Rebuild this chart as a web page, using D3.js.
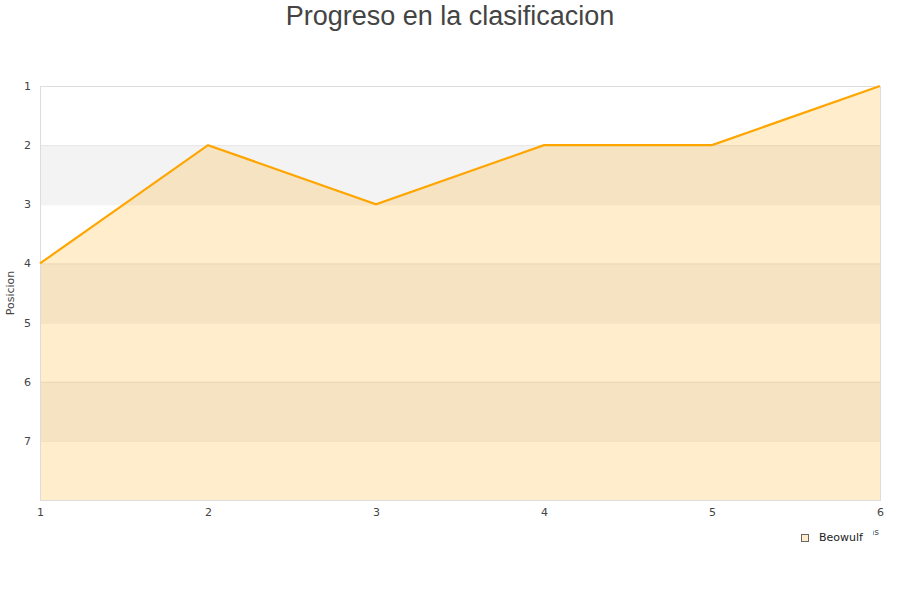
<!DOCTYPE html>
<html><head><meta charset="utf-8">
<script src="https://cdn.jsdelivr.net/npm/d3@7"></script>
<style>body{margin:0;background:#fff;} svg{display:block;}</style>
</head><body>
<svg id="c" width="900" height="600"></svg>
<script>
const title = "Progreso en la clasificacion";
const yTitle = "Posicion";
const xTitle = "Jornadas";
const seriesName = "Beowulf";
const rounds = [1, 2, 3, 4, 5, 6];
const positions = [4, 2, 3, 2, 2, 1];
const yTicks = [1, 2, 3, 4, 5, 6, 7];

const svg = d3.select("#c");
const m = {l: 40, r: 20, t: 86, b: 100};
const W = 900, H = 600;
const x = d3.scaleLinear().domain([1, 6]).range([m.l, W - m.r]);
const y = d3.scaleLinear().domain([1, 8]).range([m.t, H - m.b]);

// bands
const bands = d3.range(1, 8);
svg.append("g").selectAll("rect").data(bands).join("rect")
  .attr("x", x(1)).attr("width", x(6) - x(1))
  .attr("y", d => y(d)).attr("height", d => y(d + 1) - y(d))
  .attr("fill", d => d % 2 === 0 ? "#f3f3f3" : "#ffffff");

// area
const area = d3.area().x((d, i) => x(rounds[i])).y0(y(8)).y1(d => y(d));
svg.append("path").datum(positions).attr("d", area)
  .attr("fill", "#ffa500").attr("fill-opacity", 0.2);

// gridlines
svg.append("g").selectAll("line").data(yTicks.slice(1)).join("line")
  .attr("x1", x(1)).attr("x2", x(6))
  .attr("y1", d => y(d) + 0.5).attr("y2", d => y(d) + 0.5)
  .attr("stroke", "#000").attr("stroke-opacity", 0.06);

// border
svg.append("rect").attr("x", x(1) + 0.5).attr("y", y(1) + 0.5)
  .attr("width", x(6) - x(1)).attr("height", y(8) - y(1))
  .attr("fill", "none").attr("stroke", "#ddd");

// line
const line = d3.line().x((d, i) => x(rounds[i])).y(d => y(d));
svg.append("path").datum(positions).attr("d", line)
  .attr("fill", "none").attr("stroke", "#ffa500").attr("stroke-width", 2.2);

// y axis labels
const yAxis = d3.axisLeft(y).tickValues(yTicks).tickFormat(d3.format("d")).tickSize(0).tickPadding(9);
const gy = svg.append("g").attr("transform", `translate(${x(1)},0)`).call(yAxis);
gy.select(".domain").remove();
gy.selectAll("text").attr("font-family", "DejaVu Sans").attr("font-size", 11).attr("fill", "#444");

// x axis labels
const xAxis = d3.axisBottom(x).tickValues(rounds).tickFormat(d3.format("d")).tickSize(0).tickPadding(8);
const gx = svg.append("g").attr("transform", `translate(0,${y(8)})`).call(xAxis);
gx.select(".domain").remove();
gx.selectAll("text").attr("font-family", "DejaVu Sans").attr("font-size", 11).attr("fill", "#444");

// titles
svg.append("text").attr("x", 450).attr("y", 25).attr("text-anchor", "middle")
  .attr("font-family", "Liberation Sans").attr("font-size", 27).attr("fill", "#444").text(title);
svg.append("text").attr("transform", `translate(14,${(y(1) + y(8)) / 2}) rotate(-90)`)
  .attr("text-anchor", "middle").attr("font-family", "DejaVu Sans").attr("font-size", 11)
  .attr("fill", "#444").text(yTitle);
svg.append("text").attr("x", 879).attr("y", 535).attr("text-anchor", "end")
  .attr("font-family", "DejaVu Sans").attr("font-size", 9).attr("fill", "#444").text(xTitle);

// legend
const lg = svg.append("g");
lg.append("rect").attr("x", 795).attr("y", 528).attr("width", 78).attr("height", 20).attr("fill", "#fff");
lg.append("rect").attr("x", 801.5).attr("y", 534.5).attr("width", 7).attr("height", 7)
  .attr("fill", "#ffedcc").attr("stroke", "#666");
lg.append("text").attr("x", 819).attr("y", 541).attr("font-family", "DejaVu Sans")
  .attr("font-size", 11).attr("fill", "#222").text(seriesName);
</script>
</body></html>
